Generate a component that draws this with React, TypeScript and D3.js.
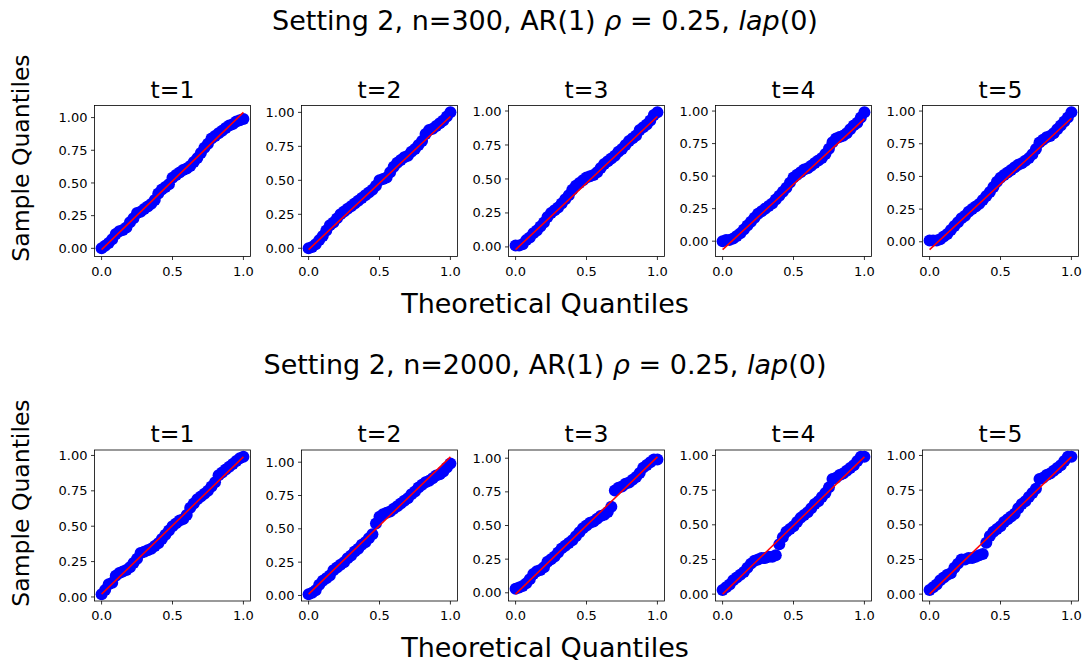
import React from 'react';
import * as d3 from 'd3';

// Theoretical quantiles (shared x positions)
const qGrid = [0, 0.025, 0.05, 0.075, 0.1, 0.125, 0.15, 0.175, 0.2, 0.225, 0.25, 0.275, 0.3, 0.325, 0.35, 0.375, 0.4, 0.425, 0.45, 0.475, 0.5, 0.525, 0.55, 0.575, 0.6, 0.625, 0.65, 0.675, 0.7, 0.725, 0.75, 0.775, 0.8, 0.825, 0.85, 0.875, 0.9, 0.925, 0.95, 0.975, 1];

// Row 1: n=300 sample quantiles
const r1t1 = [0.00, 0.02, 0.04, 0.07, 0.11, 0.13, 0.14, 0.16, 0.20, 0.23, 0.27, 0.28, 0.30, 0.32, 0.34, 0.37, 0.42, 0.45, 0.47, 0.49, 0.54, 0.56, 0.58, 0.60, 0.61, 0.63, 0.66, 0.69, 0.73, 0.77, 0.80, 0.84, 0.86, 0.88, 0.90, 0.92, 0.94, 0.95, 0.97, 0.98, 0.99];
const r1t2 = [0.00, 0.01, 0.03, 0.06, 0.09, 0.13, 0.17, 0.19, 0.22, 0.25, 0.27, 0.29, 0.31, 0.33, 0.35, 0.37, 0.39, 0.41, 0.43, 0.46, 0.50, 0.51, 0.52, 0.56, 0.60, 0.63, 0.65, 0.67, 0.68, 0.71, 0.73, 0.76, 0.79, 0.84, 0.87, 0.88, 0.90, 0.92, 0.94, 0.97, 1.00];
const r1t3 = [0.01, 0.01, 0.02, 0.05, 0.07, 0.10, 0.12, 0.15, 0.18, 0.22, 0.25, 0.27, 0.29, 0.32, 0.35, 0.38, 0.42, 0.45, 0.47, 0.49, 0.51, 0.52, 0.53, 0.55, 0.58, 0.61, 0.63, 0.65, 0.67, 0.70, 0.72, 0.75, 0.78, 0.80, 0.82, 0.86, 0.88, 0.90, 0.93, 0.97, 0.99];
const r1t4 = [0.00, 0.01, 0.01, 0.02, 0.04, 0.06, 0.09, 0.12, 0.15, 0.18, 0.21, 0.23, 0.25, 0.27, 0.29, 0.32, 0.35, 0.38, 0.41, 0.45, 0.49, 0.51, 0.53, 0.55, 0.56, 0.58, 0.60, 0.62, 0.64, 0.67, 0.71, 0.76, 0.79, 0.80, 0.81, 0.83, 0.86, 0.89, 0.91, 0.95, 0.99];
const r1t5 = [0.01, 0.01, 0.01, 0.02, 0.04, 0.06, 0.09, 0.12, 0.15, 0.18, 0.20, 0.23, 0.25, 0.27, 0.29, 0.32, 0.35, 0.38, 0.42, 0.46, 0.49, 0.51, 0.53, 0.55, 0.57, 0.59, 0.60, 0.62, 0.64, 0.67, 0.71, 0.76, 0.78, 0.80, 0.81, 0.83, 0.86, 0.89, 0.92, 0.95, 0.99];

// Row 2: n=2000 sample quantiles
const r2t1 = [0.02, 0.05, 0.09, 0.10, 0.15, 0.17, 0.18, 0.19, 0.21, 0.24, 0.27, 0.31, 0.32, 0.33, 0.34, 0.36, 0.38, 0.41, 0.44, 0.47, 0.50, 0.52, 0.54, 0.55, 0.58, 0.63, 0.66, 0.69, 0.71, 0.73, 0.75, 0.78, 0.81, 0.86, 0.88, 0.90, 0.92, 0.94, 0.96, 0.98, 0.99];
const r2t2 = [0.01, 0.02, 0.04, 0.08, 0.11, 0.13, 0.15, 0.19, 0.21, 0.23, 0.25, 0.28, 0.30, 0.33, 0.35, 0.38, 0.40, 0.43, 0.46, 0.54, 0.59, 0.61, 0.62, 0.63, 0.65, 0.67, 0.69, 0.71, 0.73, 0.76, 0.78, 0.81, 0.83, 0.85, 0.86, 0.88, 0.90, 0.91, 0.93, 0.96, 0.99];
const r2t3 = [0.03, 0.04, 0.05, 0.07, 0.10, 0.14, 0.16, 0.17, 0.19, 0.23, 0.25, 0.27, 0.30, 0.33, 0.35, 0.37, 0.39, 0.42, 0.45, 0.48, 0.50, 0.52, 0.53, 0.55, 0.57, 0.58, 0.60, 0.64, 0.76, 0.78, 0.79, 0.81, 0.82, 0.84, 0.86, 0.89, 0.93, 0.95, 0.97, 0.99, 0.99];
const r2t4 = [0.03, 0.05, 0.07, 0.10, 0.12, 0.14, 0.16, 0.19, 0.22, 0.24, 0.25, 0.26, 0.26, 0.27, 0.27, 0.28, 0.36, 0.41, 0.45, 0.47, 0.49, 0.52, 0.55, 0.57, 0.59, 0.62, 0.65, 0.67, 0.70, 0.73, 0.77, 0.83, 0.84, 0.86, 0.87, 0.89, 0.91, 0.93, 0.96, 0.99, 0.99];
const r2t5 = [0.03, 0.05, 0.07, 0.10, 0.12, 0.14, 0.15, 0.19, 0.22, 0.25, 0.25, 0.26, 0.26, 0.27, 0.28, 0.29, 0.37, 0.42, 0.45, 0.47, 0.49, 0.52, 0.54, 0.56, 0.58, 0.62, 0.65, 0.67, 0.70, 0.73, 0.76, 0.83, 0.84, 0.86, 0.87, 0.89, 0.91, 0.93, 0.96, 0.99, 0.99];

// Reference (red) lines: value at x=0 and x=1
const row1LineStart = [-0.01, -0.01, -0.02, -0.065, -0.06];
const row1LineEnd = [1.04, 0.97, 0.96, 0.94, 0.945];
const row2LineStart = [0.02, 0.01, -0.01, 0.0, 0.0];
const row2LineEnd = [0.99, 1.04, 1.01, 0.99, 0.99];

const panelTitles = ['t=1', 't=2', 't=3', 't=4', 't=5'];
const rowNs = ['300', '2000'];
const yTicks = [0, 0.25, 0.5, 0.75, 1];
const xTicks = [0, 0.5, 1];

const rows = [
  { samples: [r1t1, r1t2, r1t3, r1t4, r1t5], ls: row1LineStart, le: row1LineEnd },
  { samples: [r2t1, r2t2, r2t3, r2t4, r2t5], ls: row2LineStart, le: row2LineEnd },
];

const W = 1086;
const H = 664;
const FONT = 'DejaVu Sans, sans-serif';
const panelLeft0 = 94.5;
const panelStep = 207;
const panelW = 156;
const panelH = 151;
const rowTops = [105.5, 450];
const rowSupTitleY = [30, 374];
const rowXLabelY = [313, 657];
const rowYLabelY = [158, 503];

function padDomain(lo: number, hi: number): [number, number] {
  const m = (hi - lo) * 0.05;
  return [lo - m, hi + m];
}

function Panel({ left, top, ys, l0, l1, title }: { left: number; top: number; ys: number[]; l0: number; l1: number; title: string }) {
  const xExt = d3.extent(qGrid) as [number, number];
  const yLo = Math.min(d3.min(ys) as number, l0, l1);
  const yHi = Math.max(d3.max(ys) as number, l0, l1);
  const x = d3.scaleLinear().domain(padDomain(xExt[0], xExt[1])).range([left, left + panelW]);
  const y = d3.scaleLinear().domain(padDomain(yLo, yHi)).range([top + panelH, top]);
  const pts = qGrid.map((q, i) => [q, ys[i]] as [number, number]);
  const line = d3.line<[number, number]>().x((d) => x(d[0])).y((d) => y(d[1]));
  const linePts: [number, number][] = [[xExt[0], l0], [xExt[1], l1]];
  const clipId = `clip-${Math.round(left)}-${Math.round(top)}`;
  return (
    <g>
      <defs>
        <clipPath id={clipId}>
          <rect x={left} y={top} width={panelW} height={panelH} />
        </clipPath>
      </defs>
      <g clipPath={`url(#${clipId})`}>
        {pts.map((p, i) => (
          <circle key={i} cx={x(p[0])} cy={y(p[1])} r={6} fill="#0000ff" />
        ))}
        <path d={line(linePts) || ''} stroke="#ff0000" strokeWidth={1.5} fill="none" />
      </g>
      <rect x={left} y={top} width={panelW} height={panelH} fill="none" stroke="#000" strokeWidth={0.8} />
      {yTicks.map((t) => (
        <g key={'y' + t}>
          <line x1={left - 3.5} x2={left} y1={y(t)} y2={y(t)} stroke="#000" strokeWidth={0.8} />
          <text x={left - 7} y={y(t)} dy="0.35em" textAnchor="end" fontSize={13} fontFamily={FONT} fill="#000">
            {d3.format('.2f')(t)}
          </text>
        </g>
      ))}
      {xTicks.map((t) => (
        <g key={'x' + t}>
          <line x1={x(t)} x2={x(t)} y1={top + panelH} y2={top + panelH + 3.5} stroke="#000" strokeWidth={0.8} />
          <text x={x(t)} y={top + panelH + 19} textAnchor="middle" fontSize={13} fontFamily={FONT} fill="#000">
            {d3.format('.1f')(t)}
          </text>
        </g>
      ))}
      <text x={left + panelW / 2} y={top - 8} textAnchor="middle" fontSize={23.5} fontFamily={FONT} fill="#000">
        {title}
      </text>
    </g>
  );
}

export default function App() {
  return (
    <svg width={W} height={H} style={{ position: 'absolute', left: 0, top: 0, background: '#fff' }} xmlns="http://www.w3.org/2000/svg">
      <rect x={0} y={0} width={W} height={H} fill="#fff" />
      {rows.map((row, ri) => (
        <g key={ri}>
          <text x={545} y={rowSupTitleY[ri]} textAnchor="middle" fontSize={27} fontFamily={FONT} fill="#000">
            <tspan>{`Setting 2, n=${rowNs[ri]}, AR(1) `}</tspan>
            <tspan fontStyle="italic">ρ</tspan>
            <tspan>{' = 0.25, '}</tspan>
            <tspan fontStyle="italic">lap</tspan>
            <tspan>(0)</tspan>
          </text>
          {row.samples.map((ys, pi) => (
            <Panel
              key={pi}
              left={panelLeft0 + pi * panelStep}
              top={rowTops[ri]}
              ys={ys}
              l0={row.ls[pi]}
              l1={row.le[pi]}
              title={panelTitles[pi]}
            />
          ))}
          <text x={545} y={rowXLabelY[ri]} textAnchor="middle" fontSize={27} fontFamily={FONT} fill="#000">
            Theoretical Quantiles
          </text>
          <text
            transform={`translate(29,${rowYLabelY[ri]}) rotate(-90)`}
            textAnchor="middle"
            fontSize={23.5}
            fontFamily={FONT}
            fill="#000"
          >
            Sample Quantiles
          </text>
        </g>
      ))}
    </svg>
  );
}
